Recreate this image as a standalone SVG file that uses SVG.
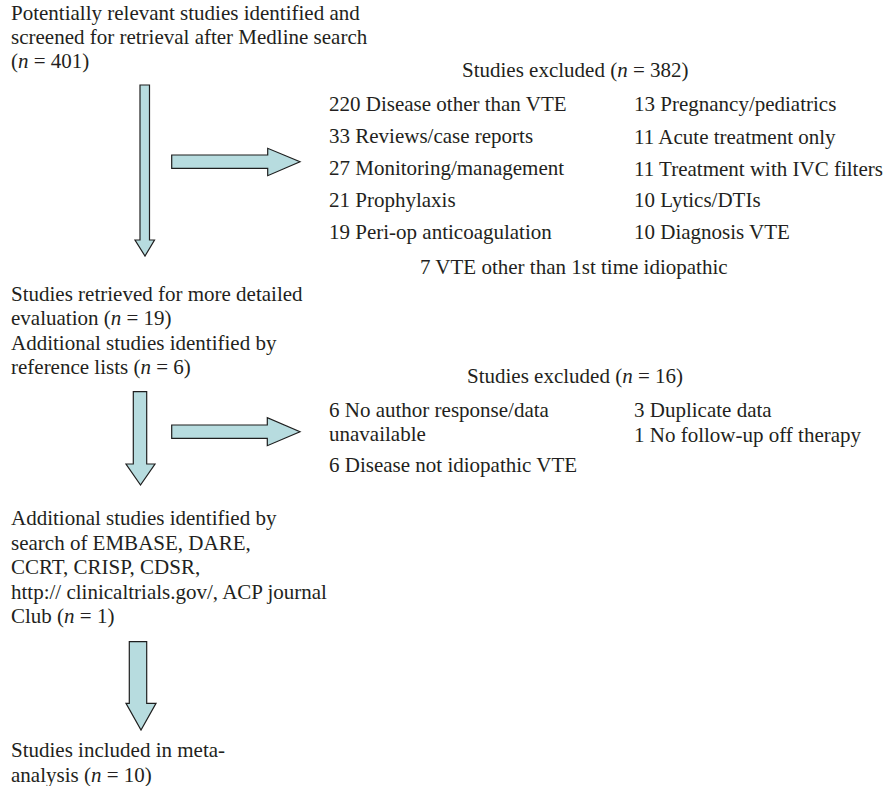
<svg xmlns="http://www.w3.org/2000/svg" width="884" height="786" viewBox="0 0 884 786">
<style>
text{font-family:"Liberation Serif","Times New Roman",serif;font-size:21px;fill:#231f20}
.i{font-style:italic}
.arr{fill:#b7dcdf;stroke:#1f1f1f;stroke-width:1.2;stroke-linejoin:miter}
</style>
<rect width="884" height="786" fill="#ffffff"/>
<g id="connectors">
<path class="arr" d="M140,85 H149.5 V240 H154.5 L145,256 L135,240 H140 Z"/>
<path class="arr" d="M171.7,155 H267.7 V148.3 L300,161.7 L267.7,175.7 V168.3 H171.7 Z"/>
<path class="arr" d="M133.3,391.7 H146.7 V464 H155 L140.5,485 L126,464 H133.3 Z"/>
<path class="arr" d="M171.7,425 H267.3 V417.7 L300,431.7 L267.3,445.7 V438.3 H171.7 Z"/>
<path class="arr" d="M129.3,641.7 H146.7 V703.3 H156 L141,730 L126,703.3 H129.3 Z"/>
</g>
<g id="identified">
<text x="11" y="19.5">Potentially relevant studies identified and</text>
<text x="11" y="44">screened for retrieval after Medline search</text>
<text x="11" y="68">(<tspan class="i">n</tspan> = 401)</text>
</g>
<g id="excluded1">
<text x="462" y="77">Studies excluded (<tspan class="i">n</tspan> = 382)</text>
<text x="329" y="111">220 Disease other than VTE</text>
<text x="329" y="143">33 Reviews/case reports</text>
<text x="329" y="175">27 Monitoring/management</text>
<text x="329" y="207">21 Prophylaxis</text>
<text x="329" y="238.5">19 Peri-op anticoagulation</text>
<text x="634" y="111">13 Pregnancy/pediatrics</text>
<text x="634" y="144">11 Acute treatment only</text>
<text x="634" y="176">11 Treatment with IVC filters</text>
<text x="634" y="207">10 Lytics/DTIs</text>
<text x="634" y="238.5">10 Diagnosis VTE</text>
<text x="420" y="274">7 VTE other than 1st time idiopathic</text>
</g>
<g id="retrieved">
<text x="11" y="301">Studies retrieved for more detailed</text>
<text x="11" y="325">evaluation (<tspan class="i">n</tspan> = 19)</text>
<text x="11" y="349.5">Additional studies identified by</text>
<text x="11" y="374">reference lists (<tspan class="i">n</tspan> = 6)</text>
</g>
<g id="excluded2">
<text x="467" y="383">Studies excluded (<tspan class="i">n</tspan> = 16)</text>
<text x="329" y="417">6 No author response/data</text>
<text x="329" y="441">unavailable</text>
<text x="329" y="471.5">6 Disease not idiopathic VTE</text>
<text x="634" y="416.7">3 Duplicate data</text>
<text x="634" y="441.7">1 No follow-up off therapy</text>
</g>
<g id="additional">
<text x="11" y="525">Additional studies identified by</text>
<text x="11" y="549.5">search of EMBASE, DARE,</text>
<text x="11" y="574">CCRT, CRISP, CDSR,</text>
<text x="11" y="598.5">http:// clinicaltrials.gov/, ACP journal</text>
<text x="11" y="623">Club (<tspan class="i">n</tspan> = 1)</text>
</g>
<g id="included">
<text x="11" y="757">Studies included in meta-</text>
<text x="11" y="781.5">analysis (<tspan class="i">n</tspan> = 10)</text>
</g>
</svg>
